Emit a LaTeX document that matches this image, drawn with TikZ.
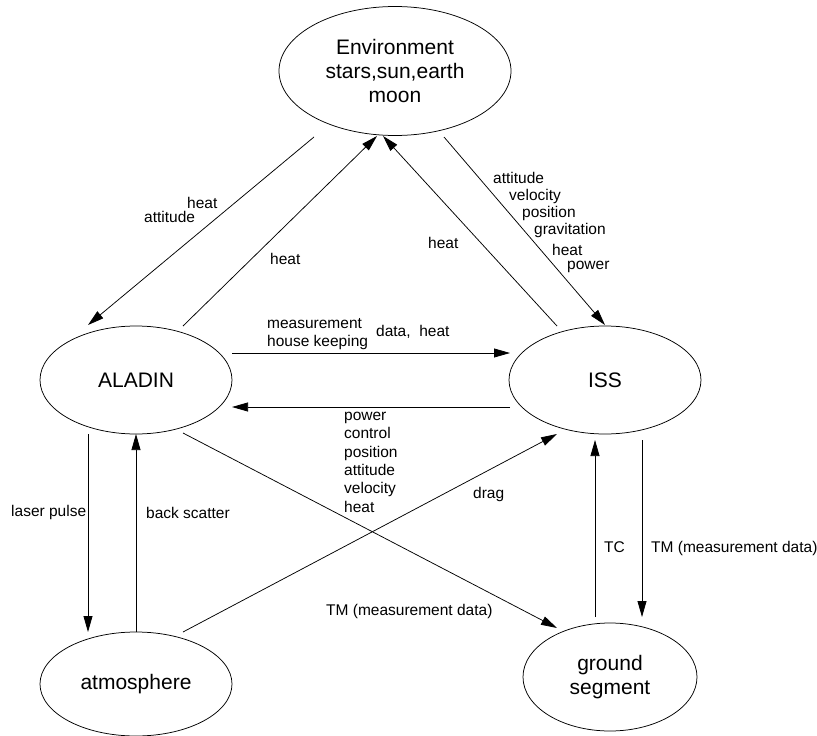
\documentclass[tikz,border=0pt]{standalone}
\usepackage{fontspec}
\setmainfont{Liberation Sans}
\usetikzlibrary{arrows.meta,calc,shapes.geometric}
\begin{document}
\begin{tikzpicture}[x=1pt,y=-1pt,
  blob/.style={draw,ellipse,inner sep=0pt,line width=0.75pt,align=center,
    font=\fontsize{21}{24}\selectfont},
  flow/.style={draw,line width=0.75pt,-{Triangle[length=16pt,width=9pt]}},
  lbl/.style={font=\fontsize{15.5}{18}\selectfont,inner sep=0pt,anchor=base west}]
\useasboundingbox (0,0) rectangle (817,736);

% nodes
\node[blob,minimum width=232pt,minimum height=129pt] (env) at (395,71)
  {Environment\\stars,sun,earth\\moon};
\node[blob,minimum width=192pt,minimum height=108pt] (aladin) at (136,380) {ALADIN};
\node[blob,minimum width=192pt,minimum height=108pt] (iss) at (605,380) {ISS};
\node[blob,minimum width=192pt,minimum height=104pt] (atm) at (136,684) {atmosphere};
\node[blob,minimum width=174pt,minimum height=108pt] (gnd) at (610,677) {ground\\segment};

% connectors
\draw[flow] ($(env)+(-81,66)$) -- ($(aladin)+(-48,-55)$);
\draw[flow] ($(aladin)+(47,-54)$) -- ($(env)+(-18,65)$);
\draw[flow] ($(iss)+(-48,-54)$) -- ($(env)+(-12,65)$);
\draw[flow] ($(env)+(49,66)$) -- ($(iss)+(0,-55)$);
\draw[flow] ($(aladin)+(96,-27)$) -- ($(iss)+(-95,-27)$);
\draw[flow] ($(iss)+(-95,27)$) -- ($(aladin)+(96,27)$);
\draw[flow] ($(aladin)+(47,53)$) -- ($(gnd)+(-53,-49)$);
\draw[flow] ($(atm)+(47,-52)$) -- ($(iss)+(-48,54)$);
\draw[flow] ($(aladin)+(-48,54)$) -- ($(atm)+(-48,-52)$);
\draw[flow] ($(atm)+(0,-52)$) -- ($(aladin)+(0,54)$);
\draw[flow] ($(gnd)+(-15,-60)$) -- ($(iss)+(-10,60)$);
\draw[flow] ($(iss)+(37,60)$) -- ($(gnd)+(32,-60)$);

% labels
\node[lbl] (l1) at (187,208) {heat};
\node[lbl] (l2) at (144,222.5) {attitude};
\node[lbl] (l3) at (270,264) {heat};
\node[lbl] (l4) at (428,248.5) {heat};
\foreach \x/\y/\t [count=\i] in {493/183/attitude,509/200/velocity,522/217.5/position,
  534/234/gravitation,552/255/heat,567/269/power}
  \node[lbl] (s\i) at (\x,\y) {\t};
\node[lbl] (m1) at (267,328) {measurement};
\node[lbl] (m2) at (267,346) {house keeping};
\node[lbl] (m3) at (376,336) {data,\ \ heat};
\foreach \y/\t [count=\i] in {420.7/power,438.8/control,457/position,
  475.5/attitude,493.8/velocity,512/heat}
  \node[lbl] (p\i) at (344,\y) {\t};
\node[lbl] (dr) at (473,498) {drag};
\node[lbl] (tm1) at (326,615) {TM (measurement data)};
\node[lbl] (lp) at (11,516) {laser pulse};
\node[lbl] (bs) at (146,518) {back scatter};
\node[lbl] (tc) at (604,552) {TC};
\node[lbl] (tm2) at (651,552) {TM (measurement data)};
\end{tikzpicture}
\end{document}
